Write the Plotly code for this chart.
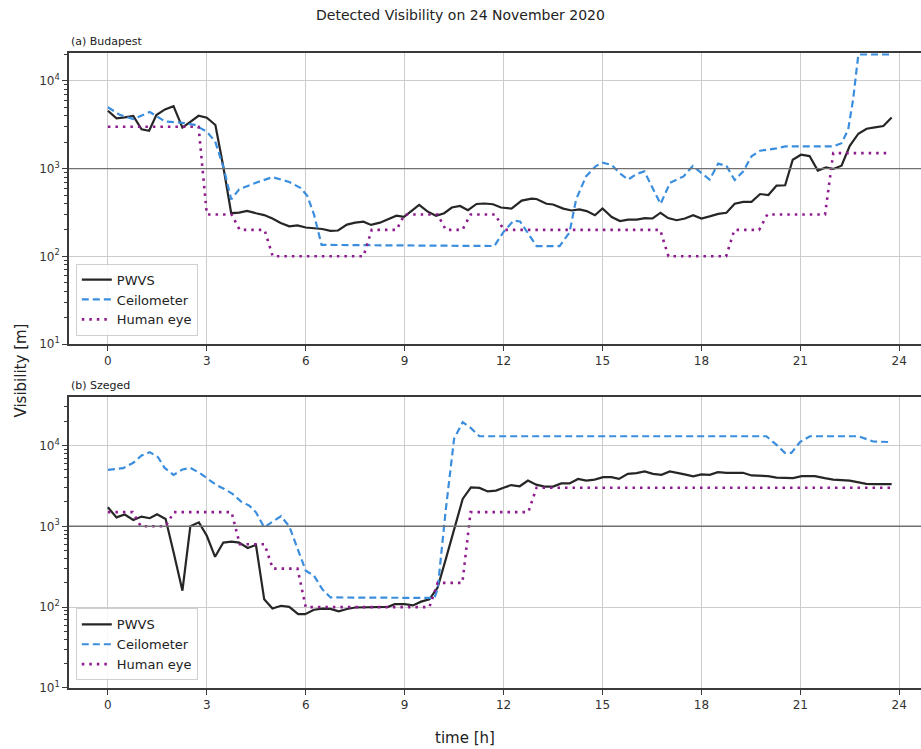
import plotly.graph_objects as go
from plotly.subplots import make_subplots

# ---------------- Data (a) Budapest ----------------
bud_pwvs_t = [0, 0.26, 0.51, 0.77, 1.02, 1.25, 1.47, 1.73, 1.99, 2.26, 2.5, 2.75, 3.0, 3.26, 3.5, 3.74,
              3.98, 4.22, 4.49, 4.74, 4.99, 5.24, 5.5, 5.75, 6.0, 6.25, 6.5, 6.75, 6.98, 7.25, 7.5, 7.75,
              7.98, 8.25, 8.5, 8.75, 8.98, 9.2, 9.44, 9.69, 9.95, 10.2, 10.43, 10.68, 10.92, 11.18, 11.42,
              11.68, 11.92, 12.24, 12.55, 12.85, 13.0, 13.3, 13.5, 13.81, 14.06, 14.3, 14.52, 14.77, 15.0,
              15.28, 15.53, 15.78, 16.04, 16.29, 16.52, 16.76, 16.99, 17.25, 17.5, 17.75, 18.0, 18.25,
              18.51, 18.76, 19.01, 19.27, 19.52, 19.78, 20.03, 20.28, 20.54, 20.77, 21.02, 21.28, 21.53,
              21.78, 22.0, 22.25, 22.5, 22.76, 23.01, 23.26, 23.52, 23.77]
bud_pwvs_v = [4570, 3740, 3840, 3980, 2800, 2700, 4080, 4730, 5150, 2930, 3420, 4000, 3800, 3140, 1050, 310,
              315, 330, 310, 295, 270, 240, 220, 225, 213, 210, 205, 195, 197, 230, 242, 248,
              228, 242, 267, 290, 282, 330, 385, 325, 290, 310, 360, 375, 335, 395, 400,
              392, 360, 350, 432, 455, 450, 397, 390, 350, 333, 343, 328, 294, 351,
              280, 252, 262, 262, 273, 270, 314, 273, 258, 270, 294, 270, 285,
              305, 314, 397, 418, 418, 513, 500, 640, 645, 1260, 1440, 1390, 950,
              1030, 990, 1080, 1820, 2500, 2850, 2950, 3060, 3820]

bud_ceil_t = [0, 0.36, 0.77, 1.27, 1.73, 2.26, 2.63, 2.99, 3.25, 3.5, 3.74, 3.98, 4.49, 4.99, 5.5, 5.85,
              6.05, 6.25, 6.48, 11.72, 12.0, 12.3, 12.5, 13.0, 13.7, 14.0, 14.2, 14.5, 14.8, 15.0, 15.28,
              15.53, 15.78, 16.04, 16.27, 16.52, 16.76, 17.05, 17.46, 17.74, 18.0, 18.25, 18.51, 18.76,
              19.01, 19.27, 19.52, 19.78, 20.28, 20.54, 22.0, 22.25, 22.45, 22.6, 22.76, 23.77]
bud_ceil_v = [5000, 4100, 3670, 4420, 3450, 3330, 3150, 2650, 2050, 1050, 445, 580, 690, 800, 705, 600,
              485, 300, 135, 131, 190, 255, 250, 131, 131, 187, 445, 815, 1070, 1170, 1100,
              880, 750, 870, 930, 590, 395, 690, 815, 1070, 900, 750, 1140, 1070,
              740, 930, 1380, 1600, 1700, 1790, 1790, 1950, 2770, 6100, 20000, 20000]

bud_eye_t = [0, 2.75, 3.0, 3.75, 4.0, 4.75, 5.0, 7.75, 8.0, 8.75, 9.0, 10.0, 10.25, 10.75, 11.0, 11.75,
             12.0, 16.75, 17.0, 18.75, 19.0, 19.75, 20.0, 21.75, 22.0, 23.75]
bud_eye_v = [3000, 3000, 300, 300, 200, 200, 100, 100, 200, 200, 300, 300, 200, 200, 300, 300,
             200, 200, 100, 100, 200, 200, 300, 300, 1500, 1500]

# ---------------- Data (b) Szeged ----------------
sze_pwvs_t = [0, 0.26, 0.51, 0.77, 1.02, 1.27, 1.49, 1.75, 1.99, 2.26, 2.5, 2.76, 3.0, 3.25, 3.5, 3.75,
              3.98, 4.24, 4.49, 4.74, 4.99, 5.25, 5.5, 5.77, 5.98, 6.25, 6.5, 6.75, 7.0, 7.25, 7.5,
              7.75, 8.25, 8.5, 8.7, 9.0, 9.25, 9.5, 9.75, 10.0, 10.25, 10.5, 10.76, 11.01, 11.27,
              11.52, 11.77, 12.0, 12.23, 12.49, 12.74, 12.99, 13.24, 13.5, 13.75, 14.0, 14.26, 14.51,
              14.76, 15.02, 15.27, 15.5, 15.77, 16.03, 16.28, 16.53, 16.79, 17.04, 17.29, 17.49, 17.75,
              18.0, 18.25, 18.5, 18.76, 19.01, 19.26, 19.52, 19.77, 20.02, 20.28, 20.53, 20.78, 21.04,
              21.44, 21.74, 22.0, 22.5, 22.76, 23.0, 23.26, 23.77]
sze_pwvs_v = [1720, 1290, 1400, 1200, 1320, 1260, 1410, 1230, 480, 160, 1000, 1120, 765, 420, 630, 645,
              630, 540, 590, 125, 96, 104, 101, 82, 82, 93, 96, 95, 89, 95, 99,
              100, 100, 101, 109, 109, 105, 117, 125, 175, 395, 930, 2180, 3040, 2990,
              2700, 2770, 3000, 3240, 3130, 3680, 3280, 3100, 3100, 3400, 3400, 3860, 3680,
              3790, 4050, 4050, 3860, 4460, 4550, 4770, 4460, 4330, 4770, 4590, 4400, 4150,
              4400, 4330, 4680, 4590, 4590, 4590, 4260, 4260, 4180, 4010, 3940, 3940, 4180,
              4180, 3940, 3790, 3680, 3510, 3350, 3320, 3320]

sze_ceil_t = [0, 0.46, 0.77, 1.02, 1.27, 1.52, 1.72, 1.99, 2.26, 2.5, 2.78, 3.03, 3.28, 3.53, 3.78, 4.04,
              4.29, 4.49, 4.74, 4.99, 5.25, 5.5, 5.75, 6.0, 6.25, 6.5, 6.75, 9.9, 10.0, 10.25, 10.5,
              10.76, 11.01, 11.27, 19.97, 20.28, 20.53, 20.73, 20.99, 21.29, 22.76, 23.21, 23.77]
sze_ceil_v = [4990, 5240, 6100, 7510, 8270, 7160, 5280, 4330, 5040, 5280, 4580, 3860, 3260, 2900, 2520, 2020,
              1800, 1490, 970, 1140, 1330, 1000, 525, 283, 245, 167, 132, 130, 167, 1640, 12100,
              19400, 16400, 13000, 13000, 10200, 8100, 8100, 11000, 13000, 13000, 11200, 11000]

sze_eye_t = [0, 0.75, 1.0, 1.75, 2.0, 3.75, 4.0, 4.75, 5.0, 5.75, 6.0, 9.75, 10.0, 10.75, 11.0, 12.75,
             13.0, 23.75]
sze_eye_v = [1500, 1500, 1000, 1000, 1500, 1500, 600, 600, 300, 300, 100, 100, 200, 200, 1500, 1500,
             3000, 3000]

x_ticks = [0, 3, 6, 9, 12, 15, 18, 21, 24]
y_ticks = [10, 100, 1000, 10000]
y_tick_text = ["10<sup>1</sup>", "10<sup>2</sup>", "10<sup>3</sup>", "10<sup>4</sup>"]

names = ["PWVS", "Ceilometer", "Human eye"]
colors = ["#262626", "#3b8ede", "#8e1c8e"]
dashes = ["solid", "7px,4px", "2.5px,5px"]

FONT = "DejaVu Sans"
fig = make_subplots(rows=2, cols=1, shared_xaxes=False, vertical_spacing=0.08)

panels = [
    (bud_pwvs_t, bud_pwvs_v, bud_ceil_t, bud_ceil_v, bud_eye_t, bud_eye_v, "legend"),
    (sze_pwvs_t, sze_pwvs_v, sze_ceil_t, sze_ceil_v, sze_eye_t, sze_eye_v, "legend2"),
]
for r, p in enumerate(panels, start=1):
    series = [(p[0], p[1]), (p[2], p[3]), (p[4], p[5])]
    for i, (t, v) in enumerate(series):
        fig.add_trace(go.Scatter(x=t, y=v, mode="lines", name=names[i], legend=p[6],
                                 line=dict(color=colors[i], width=2.2 if i < 2 else 2.6, dash=dashes[i])),
                      row=r, col=1)

axis_common = dict(showline=True, linecolor="#3a3a3a", linewidth=1.6, ticks="outside", ticklen=5,
                   tickcolor="#3a3a3a", showgrid=True, gridcolor="#cccccc", gridwidth=1.3,
                   tickfont=dict(family=FONT, size=12, color="#333333"), zeroline=False)

for r, (dom, yr) in enumerate([((0.5417, 1.0), [1, 4.318]), ((0.0, 0.4583), [1, 4.60])], start=1):
    fig.update_xaxes(range=[-1.18, 24.66], tickvals=x_ticks, mirror=True, **axis_common, row=r, col=1)
    fig.update_yaxes(type="log", range=yr, domain=list(dom), tickvals=y_ticks, ticktext=y_tick_text,
                     minor=dict(ticks="outside", ticklen=3, tickcolor="#3a3a3a", dtick="D1", showgrid=False),
                     **axis_common, row=r, col=1)

# darker reference line at 10^3
for xr, yr in [("x", "y"), ("x2", "y2")]:
    fig.add_shape(type="line", xref=f"{xr} domain", yref=yr, x0=0, x1=1, y0=1000, y1=1000,
                  line=dict(color="#707070", width=1.4), layer="above")

legend_style = dict(bgcolor="rgba(255,255,255,0.85)", bordercolor="#d0d0d0", borderwidth=1,
                    font=dict(family=FONT, size=13, color="#222"), xanchor="left", yanchor="bottom",
                    tracegroupgap=0, itemwidth=30)

fig.update_layout(
    width=921, height=749,
    margin=dict(l=69, r=0, t=53, b=61),
    paper_bgcolor="white", plot_bgcolor="white",
    font=dict(family=FONT, color="#222"),
    title=dict(text="Detected Visibility on 24 November 2020", x=0.5, xref="container", xanchor="center",
               y=1 - 15 / 749, yref="container", yanchor="middle",
               font=dict(family=FONT, size=14, color="#222")),
    legend=dict(x=0.008, y=0.555, **legend_style),
    legend2=dict(x=0.008, y=0.012, **legend_style),
    annotations=[
        dict(text="(a) Budapest", xref="paper", yref="paper", x=0, y=1.0, xanchor="left", yanchor="bottom",
             yshift=3, showarrow=False, font=dict(family=FONT, size=11, color="#222")),
        dict(text="(b) Szeged", xref="paper", yref="paper", x=0, y=0.4583, xanchor="left", yanchor="bottom",
             yshift=3, showarrow=False, font=dict(family=FONT, size=11, color="#222")),
        dict(text="Visibility [m]", xref="paper", yref="paper", x=0, y=0.5, xshift=-49, textangle=-90,
             xanchor="center", yanchor="middle", showarrow=False, font=dict(family=FONT, size=15, color="#222")),
        dict(text="time [h]", xref="paper", yref="paper", x=(465 - 69) / 852, y=0, yshift=-50,
             xanchor="center", yanchor="middle", showarrow=False, font=dict(family=FONT, size=15, color="#222")),
    ],
)

fig.write_html("out.html", config={"displayModeBar": False},
               post_script="document.body.style.margin='0';document.body.style.overflow='hidden';")
